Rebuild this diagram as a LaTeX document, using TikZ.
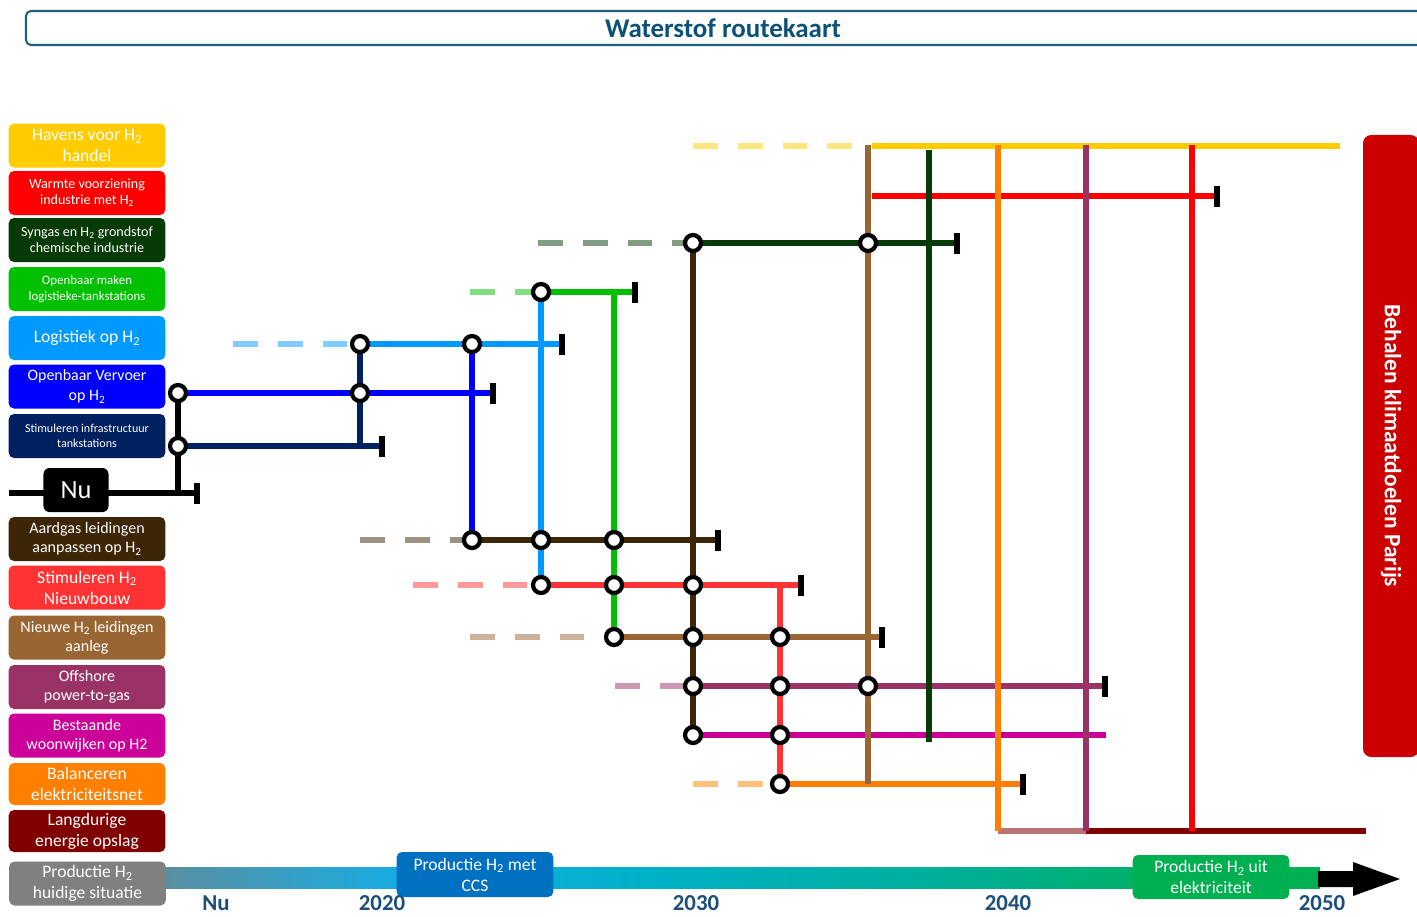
\documentclass[tikz,border=0pt]{standalone}
\usepackage{fontspec}
\setmainfont{Carlito}
\usetikzlibrary{positioning}

% Colours of the routes
\definecolor{havens}{HTML}{FFCC00}
\definecolor{warmte}{HTML}{FF0000}
\definecolor{syngas}{HTML}{063A06}
\definecolor{openbaar}{HTML}{00C000}
\definecolor{logistiek}{HTML}{0099FF}
\definecolor{vervoer}{HTML}{0000FF}
\definecolor{infra}{HTML}{002060}
\definecolor{aardgas}{HTML}{3D2507}
\definecolor{nieuwbouw}{HTML}{FF3333}
\definecolor{leidingen}{HTML}{996633}
\definecolor{offshore}{HTML}{993366}
\definecolor{woonwijk}{HTML}{CC0099}
\definecolor{balans}{HTML}{FF8000}
\definecolor{opslag}{HTML}{800000}
\definecolor{huidig}{HTML}{808080}
\definecolor{ccs}{HTML}{0070C0}
\definecolor{elek}{HTML}{00B050}
\definecolor{parijs}{HTML}{CC0000}
\definecolor{kader}{HTML}{1F6080}
\definecolor{titeltekst}{HTML}{0B5177}
\definecolor{jaartal}{HTML}{1B4F7A}
% Colours of the timeline
\definecolor{tlA}{HTML}{5C8EA0}
\definecolor{tlB}{HTML}{12AEE6}
\definecolor{tlC}{HTML}{00B1C4}
\definecolor{tlD}{HTML}{00AF9C}
\definecolor{tlE}{HTML}{00B05A}
\definecolor{tlF}{HTML}{00B050}
\pgfdeclarehorizontalshading{tijdlijn}{100bp}{color(0bp)=(tlA); color(25bp)=(tlA); color(36bp)=(tlB); color(47bp)=(tlC); color(58bp)=(tlD); color(70bp)=(tlE); color(75bp)=(tlF); color(100bp)=(tlF)}

\newcommand{\fntA}{\fontsize{15}{17.9}\selectfont}
\newcommand{\fntB}{\fontsize{13.6}{17}\selectfont}
\newcommand{\fntG}{\fontsize{15}{18}\selectfont}
\newcommand{\fntC}{\fontsize{13.7}{16.5}\selectfont}
\newcommand{\fntD}{\fontsize{12}{13.7}\selectfont}
\newcommand{\fntE}{\fontsize{11}{13.7}\selectfont}
\newcommand{\fntF}{\fontsize{10.3}{12.8}\selectfont}
\newcommand{\fntJaar}{\fontsize{19.5}{23}\selectfont}
\newcommand{\fntTitel}{\fontsize{23}{27}\selectfont}
\newcommand{\fntNu}{\fontsize{22.5}{26}\selectfont}
\newcommand{\fntParijs}{\fontsize{20}{24}\selectfont}

\begin{document}
\begin{tikzpicture}[
  x=0.03cm, y=-0.03cm,
  font=\fntA,
  route/.style={line width=4.6pt, draw=#1},
  plan/.style={line width=4.6pt, draw=#1, draw opacity=0.5, dash pattern=on 21.3pt off 16.9pt},
  station/.style={circle, draw=black, fill=white, line width=3.6pt, minimum size=0.48cm, inner sep=0pt},
  endbar/.style={fill=black, minimum width=0.18cm, minimum height=0.63cm, inner sep=0pt},
  theme/.style={fill=#1, text=white, rounded corners=0.16cm, minimum width=4.7cm, minimum height=1.32cm, inner sep=1pt, align=center},
  jaar/.style={anchor=base, inner sep=0pt, text=jaartal, font=\fntJaar\bfseries}
]
\useasboundingbox (0,0) rectangle (1417,917);

% Title
\draw[kader, line width=1.8pt, rounded corners=0.15cm] (26,11) rectangle (1440,45);
\node[text=titeltekst, font=\fntTitel\bfseries] (titel) at (723,28) {Waterstof routekaart};

% Network points
\foreach \n/\x/\y in {
    havs/693/146, hav0/853/146, hav1/872/146, have/1340/146,
    war1/872/196, ware/1217/196,
    syns/538/243, syn1/693/243, syn2/868/243, syne/957/243,
    opms/470/292, opm1/541/292, opm2/614/292, opme/635/292,
    logs/233/344, log1/360/344, log2/472/344, loge/562/344,
    ov1/178/393, ov2/360/393, ove/493/393,
    inf1/178/446, inf2/360/446, infe/382/446,
    nus/9/493, nu1/178/493, nue/197/493,
    aars/360/540, aar1/472/540, aar2/541/540, aar3/614/540, aare/718/540,
    nies/413/585, nie1/541/585, nie2/614/585, nie3/693/585, nie4/780/585, niee/801/585,
    leis/470/637, lei0/587/637, lei1/614/637, lei2/693/637, lei3/780/637, leie/882/637,
    offs/615/686, off1/693/686, off2/780/686, off3/868/686, offe/1105/686,
    bes1/693/735, bes2/780/735, bese/1106/735,
    bals/693/784, bal1/780/784, bal2/868/784, bale/1023/784,
    lan1/998/831, lan2/1086/831, lan3/1192/831, lane/1366/831,
    leit/868/145, synt/929/150, synb/929/742, balt/998/145, offt/1086/145, wart/1192/145}
  \coordinate (\n) at (\x,\y);

% Horizontal routes
\draw[plan=havens] (havs) -- (hav0);
\draw[route=havens] (hav1) -- (have);
\draw[route=warmte] (war1) -- (ware);
\draw[plan=syngas] (syns) -- (syn1);
\draw[route=syngas] (syn1) -- (syne);
\draw[plan=openbaar] (opms) -- (opm1);
\draw[route=openbaar] (opm1) -- (opme);
\draw[plan=logistiek] (logs) -- (log1);
\draw[route=logistiek] (log1) -- (loge);
\draw[route=vervoer] (ov1) -- (ove);
\draw[route=infra] (inf1) -- (infe);
\draw[route=black] (nus) -- (nue);
\draw[plan=aardgas] (aars) -- (aar1);
\draw[route=aardgas] (aar1) -- (aare);
\draw[plan=nieuwbouw] (nies) -- (nie1);
\draw[route=nieuwbouw] (nie1) -- (niee);
\draw[plan=leidingen] (leis) -- (lei0);
\draw[route=leidingen] (lei1) -- (leie);
\draw[plan=offshore] (offs) -- (off1);
\draw[route=offshore] (off1) -- (offe);
\draw[route=woonwijk] (bes1) -- (bese);
\draw[plan=balans] (bals) -- (bal1);
\draw[route=balans] (bal1) -- (bale);
\draw[route=opslag, draw opacity=0.55] (lan1) -- (lan2);
\draw[route=opslag] (lan2) -- (lane);

% Vertical routes
\draw[route=black] (ov1) -- (nu1);
\draw[route=infra] (log1) -- (inf2);
\draw[route=vervoer] (log2) -- (aar1);
\draw[route=logistiek] (opm1) -- (nie1);
\draw[route=openbaar] (opm2) -- (lei1);
\draw[route=aardgas] (syn1) -- (bes1);
\draw[route=nieuwbouw] (nie4) -- (bal1);
\draw[route=leidingen] (leit) -- (bal2);
\draw[route=syngas] (synt) -- (synb);
\draw[route=balans] (balt) -- (lan1);
\draw[route=offshore] (offt) -- (lan2);
\draw[route=warmte] (wart) -- (lan3);

% Stations and end points
\foreach \n in {ov1,inf1,log1,ov2,log2,opm1,aar1,aar2,aar3,nie1,nie2,nie3,syn1,syn2,lei1,lei2,lei3,off1,off2,off3,bes1,bes2,bal1}
  \node[station] (st-\n) at (\n) {};
\foreach \n in {ware,syne,opme,loge,ove,infe,nue,aare,niee,leie,offe,bale}
  \node[endbar] (bar-\n) at (\n) {};

% Themes
\node[theme=havens, font=\fntA] (t-havens) at (87,145.5) {Havens voor H\textsubscript{2}\\handel};
\node[theme=warmte, font=\fntD] (t-warmte) at (87,193) {Warmte voorziening\\industrie met H\textsubscript{2}};
\node[theme=syngas, font=\fntD] (t-syngas) at (87,240) {Syngas en H\textsubscript{2} grondstof\\chemische industrie};
\node[theme=openbaar, font=\fntE] (t-openbaar) at (87,289) {Openbaar maken\\logistieke-tankstations};
\node[theme=logistiek, font=\fntA] (t-logistiek) at (87,338) {Logistiek op H\textsubscript{2}};
\node[theme=vervoer, font=\fntB] (t-vervoer) at (87,386.5) {Openbaar Vervoer\\op H\textsubscript{2}};
\node[theme=infra, font=\fntF] (t-infra) at (87,436) {Stimuleren infrastructuur\\tankstations};
\node[fill=black, text=white, rounded corners=0.18cm, minimum width=1.95cm, minimum height=1.32cm, font=\fntNu] (nu) at (76,490) {Nu};
\node[theme=aardgas, font=\fntC] (t-aardgas) at (87,539) {Aardgas leidingen\\aanpassen op H\textsubscript{2}};
\node[theme=nieuwbouw, font=\fntG] (t-nieuwbouw) at (87,587.5) {Stimuleren H\textsubscript{2}\\Nieuwbouw};
\node[theme=leidingen, font=\fntC] (t-leidingen) at (87,637.5) {Nieuwe H\textsubscript{2} leidingen\\aanleg};
\node[theme=offshore, font=\fntC] (t-offshore) at (87,687) {Offshore\\power-to-gas};
\node[theme=woonwijk, font=\fntC] (t-woonwijk) at (87,735.5) {Bestaande\\woonwijken op H2};
\node[theme=balans, font=\fntG, minimum height=1.26cm] (t-balans) at (87,784) {Balanceren\\elektriciteitsnet};
\node[theme=opslag, font=\fntG, minimum height=1.26cm] (t-opslag) at (87,831) {Langdurige\\energie opslag};

% Timeline
\shade[shading=tijdlijn] (160,867) rectangle (1320,888);
\fill[black] (1318,871) -- (1353,871) -- (1353,862) -- (1400,879) -- (1353,896) -- (1353,887) -- (1318,887) -- cycle;
\node[theme=huidig, font=\fntG] (t-huidig) at (87.5,883.5) {Productie H\textsubscript{2}\\huidige situatie};
\node[theme=ccs, font=\fntG, minimum height=1.35cm] (t-ccs) at (475,874.5) {Productie H\textsubscript{2} met\\CCS};
\node[theme=elek, font=\fntG] (t-elek) at (1211,877) {Productie H\textsubscript{2} uit\\elektriciteit};
\foreach \x/\t in {216/Nu,382/2020,696/2030,1008/2040,1322/2050}
  \node[jaar] (jaar-\t) at (\x,910) {\t};

% Goal
\node[fill=parijs, rounded corners=0.25cm, rotate=-90, minimum width=18.66cm, minimum height=1.68cm, text=white, font=\fntParijs\bfseries] (parijs) at (1391,446) {Behalen klimaatdoelen Parijs};

\end{tikzpicture}
\end{document}
